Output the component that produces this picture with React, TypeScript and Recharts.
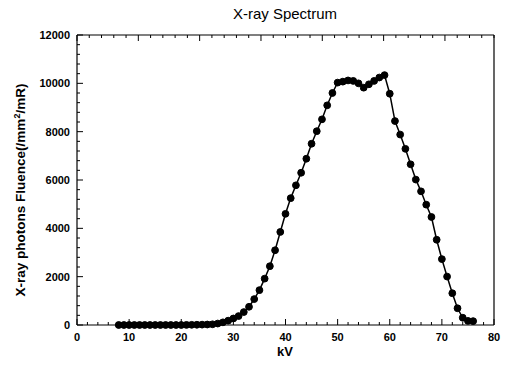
import React from "react";
import { ComposedChart, Line, XAxis, YAxis } from "recharts";

const kv = [
  8, 9, 10, 11, 12, 13, 14, 15, 16, 17, 18, 19, 20, 21, 22, 23, 24, 25, 26, 27,
  28, 29, 30, 31, 32, 33, 34, 35, 36, 37, 38, 39, 40, 41, 42, 43, 44, 45, 46, 47,
  48, 49, 50, 51, 52, 53, 54, 55, 56, 57, 58, 59, 60, 61, 62, 63, 64, 65, 66, 67,
  68, 69, 70, 71, 72, 73, 74, 75, 76,
];
const fluence = [
  0, 0, 0, 0, 0, 0, 0, 0, 0, 0, 0, 0, 0, 5, 8, 10, 15, 20, 30, 60,
  110, 180, 270, 370, 536, 754, 1072, 1443, 1918, 2433, 3093, 3850, 4600, 5250, 5780, 6300, 6880, 7500, 8020, 8510,
  9090, 9600, 10030, 10070, 10120, 10100, 10000, 9820, 9960, 10100, 10240, 10340, 9570, 8440, 7880, 7290, 6650, 6017, 5531, 4979,
  4469, 3527, 2726, 2004, 1315, 693, 300, 170, 160,
];

const xTicks = [
  0, 2, 4, 6, 8, 10, 12, 14, 16, 18, 20, 22, 24, 26, 28, 30, 32, 34, 36, 38, 40,
  42, 44, 46, 48, 50, 52, 54, 56, 58, 60, 62, 64, 66, 68, 70, 72, 74, 76, 78, 80,
];
const xLabels = [0, 10, 20, 30, 40, 50, 60, 70, 80];
const yTicks = [
  0, 400, 800, 1200, 1600, 2000, 2400, 2800, 3200, 3600, 4000, 4400, 4800, 5200, 5600, 6000,
  6400, 6800, 7200, 7600, 8000, 8400, 8800, 9200, 9600, 10000, 10400, 10800, 11200, 11600, 12000,
];
const yLabels = [0, 2000, 4000, 6000, 8000, 10000, 12000];

const data = kv.map((k, i) => ({ kv: k, value: fluence[i] }));

const FONT = "'Liberation Sans', Arial, sans-serif";
const MARGIN_X = 12;
const MARGIN_Y = 7;

const BottomTick = ({ x, y, payload }: any) => {
  const major = xLabels.includes(payload.value);
  const base = y - MARGIN_X;
  return (
    <g>
      <line x1={x} y1={base} x2={x} y2={base - (major ? 6 : 3)} stroke="#000" strokeWidth={1} />
      {major && (
        <text x={x} y={y} dy="0.35em" textAnchor="middle" fontFamily={FONT} fontSize={11} fontWeight={700} fill="#000">
          {payload.value}
        </text>
      )}
    </g>
  );
};

const TopTick = ({ x, y, payload }: any) => {
  const major = xLabels.includes(payload.value);
  return <line x1={x} y1={y} x2={x} y2={y + (major ? 6 : 3)} stroke="#000" strokeWidth={1} />;
};

const LeftTick = ({ x, y, payload }: any) => {
  const major = yLabels.includes(payload.value);
  const base = x + MARGIN_Y;
  return (
    <g>
      <line x1={base} y1={y} x2={base + (major ? 6 : 3)} y2={y} stroke="#000" strokeWidth={1} />
      {major && (
        <text x={x} y={y} dy="0.35em" textAnchor="end" fontFamily={FONT} fontSize={11} fontWeight={700} fill="#000">
          {payload.value}
        </text>
      )}
    </g>
  );
};

const RightTick = ({ x, y, payload }: any) => {
  const major = yLabels.includes(payload.value);
  return <line x1={x} y1={y} x2={x - (major ? 6 : 3)} y2={y} stroke="#000" strokeWidth={1} />;
};

export default function App() {
  return (
    <div style={{ position: "absolute", left: 0, top: 0, width: 505, height: 368, background: "#fff" }}>
      <ComposedChart width={505} height={368} data={data} margin={{ top: 0, right: 0, bottom: 0, left: 0 }}>
        <XAxis
          xAxisId="bottom"
          dataKey="kv"
          type="number"
          domain={[0, 80]}
          ticks={xTicks}
          interval={0}
          height={43}
          tickSize={0}
          tickMargin={MARGIN_X}
          tickLine={false}
          axisLine={{ stroke: "#000", strokeWidth: 1.2 }}
          tick={<BottomTick />}
        />
        <XAxis
          xAxisId="top"
          orientation="top"
          type="number"
          domain={[0, 80]}
          ticks={xTicks}
          interval={0}
          height={35}
          tickSize={0}
          tickMargin={0}
          tickLine={false}
          axisLine={{ stroke: "#000", strokeWidth: 1.2 }}
          tick={<TopTick />}
        />
        <YAxis
          yAxisId="left"
          type="number"
          domain={[0, 12000]}
          ticks={yTicks}
          interval={0}
          width={77}
          tickSize={0}
          tickMargin={MARGIN_Y}
          tickLine={false}
          axisLine={{ stroke: "#000", strokeWidth: 1.2 }}
          tick={<LeftTick />}
        />
        <YAxis
          yAxisId="right"
          orientation="right"
          type="number"
          domain={[0, 12000]}
          ticks={yTicks}
          interval={0}
          width={11}
          tickSize={0}
          tickMargin={0}
          tickLine={false}
          axisLine={{ stroke: "#000", strokeWidth: 1.2 }}
          tick={<RightTick />}
        />
        <Line
          xAxisId="bottom"
          yAxisId="left"
          type="linear"
          dataKey="value"
          stroke="#000"
          strokeWidth={1.5}
          dot={{ r: 3.4, fill: "#000", stroke: "#000", strokeWidth: 1 }}
          isAnimationActive={false}
        />
      </ComposedChart>
      <div style={{ position: "absolute", left: 0, width: 570, top: 5, textAlign: "center", fontFamily: FONT, fontSize: 15, color: "#000" }}>
        X-ray Spectrum
      </div>
      <div style={{ position: "absolute", left: 0, width: 570, top: 344, textAlign: "center", fontFamily: FONT, fontSize: 13, fontWeight: 700, color: "#000" }}>
        kV
      </div>
      <div
        style={{
          position: "absolute",
          left: 21,
          top: 190,
          transform: "translate(-50%, -50%) rotate(-90deg)",
          whiteSpace: "nowrap",
          fontFamily: FONT,
          fontSize: 13.5,
          fontWeight: 700,
          color: "#000",
          lineHeight: "16px",
        }}
      >
        X-ray photons Fluence(/mm<sup style={{ fontSize: 9, lineHeight: 0 }}>2</sup>/mR)
      </div>
    </div>
  );
}
